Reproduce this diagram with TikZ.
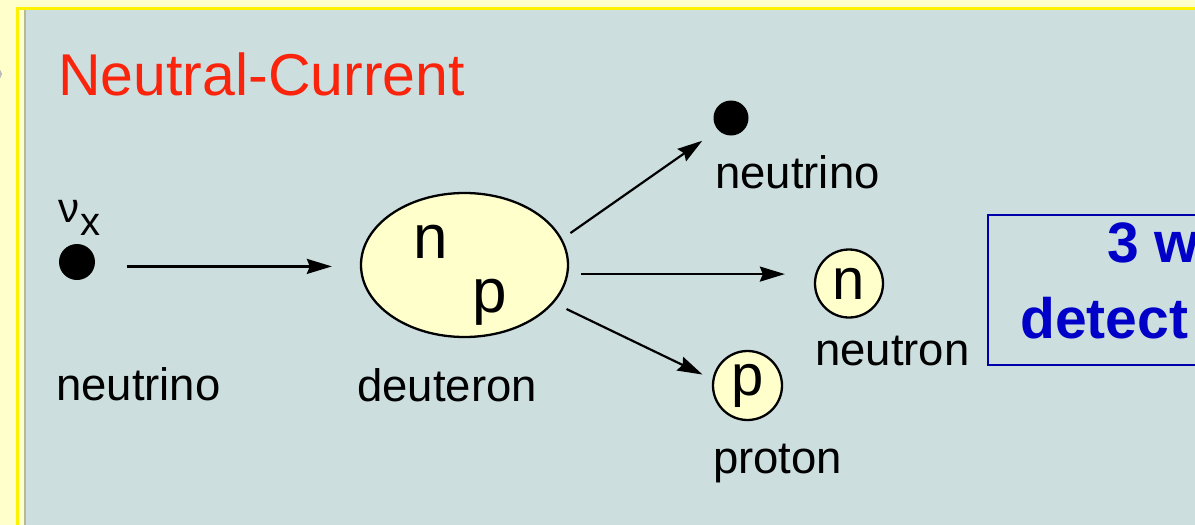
\documentclass[tikz,border=0pt]{standalone}
\usepackage{fontspec}
\setmainfont{Liberation Sans}
\usetikzlibrary{arrows.meta, positioning, shapes.geometric}
\definecolor{cream}{RGB}{255,255,204}
\definecolor{panelgray}{RGB}{204,222,222}
\definecolor{rimgray}{RGB}{184,184,150}
\definecolor{titlered}{RGB}{250,36,12}
\definecolor{noteblue}{RGB}{0,0,200}
\definecolor{boxblue}{RGB}{0,0,170}

\begin{document}
\begin{tikzpicture}[
        x=1pt, y=-1pt,
        dot/.style={circle, fill=black, minimum size=36pt, inner sep=0pt},
        bubble/.style={draw, fill=cream, line width=2.3pt, inner sep=0pt},
        lbl/.style={anchor=base west, inner sep=0pt, font=\fontsize{45.5}{50}\selectfont},
        bold/.style={anchor=base west, inner sep=0pt, text=noteblue, font=\fontsize{57}{62}\selectfont\bfseries},
        line/.style={draw, line width=2.2pt, -{Stealth[length=25pt, width=15pt, inset=3pt]}}
        ]
        \useasboundingbox (0,0) rectangle (1195,525);
        \clip (0,0) rectangle (1195,525);
        % frame and panel
        \fill[cream] (0,0) rectangle (1195,525);
        \fill[gray!55] (-3,74) circle (5);
        \draw[yellow, line width=3pt] (17.5,560) -- (17.5,8.5) -- (1250,8.5);
        \fill[rimgray] (24,10) rectangle (26,560);
        \fill[panelgray] (26,10) rectangle (1250,560);

        \node[anchor=base west, inner sep=0pt, text=titlered, font=\fontsize{59}{64}\selectfont] (title) at (58,95) {Neutral-Current};

        % incoming neutrino
        \node[dot] (nuin) at (77,262) {};
        \node[anchor=base west, inner sep=0pt, font=\fontsize{42}{46}\selectfont] (nusym) at (58,222) {ν};
        \node[anchor=base west, inner sep=0pt, font=\fontsize{40}{44}\selectfont] (nuidx) at (80,235) {x};
        \node[lbl] (nuinlbl) at (56,400) {neutrino};

        % deuteron
        \node[bubble, ellipse, minimum width=207pt, minimum height=144pt] (deut) at (464.5,265) {};
        \node[anchor=base, inner sep=0pt, font=\fontsize{62}{66}\selectfont] (dn) at (431,258) {n};
        \node[anchor=base, inner sep=0pt, font=\fontsize{62}{66}\selectfont] (dp) at (490,312) {p};
        \node[lbl] (deutlbl) at (357,401) {deuteron};

        % products
        \node[dot, minimum size=35pt] (nuout) at (731,118) {};
        \node[lbl] (nuoutlbl) at (715,188) {neutrino};
        \node[bubble, circle, minimum size=68pt, font=\fontsize{58}{62}\selectfont] (ncirc) at (849,283.5) {n};
        \node[lbl] (ncirclbl) at (815,365) {neutron};
        \node[bubble, circle, minimum size=69pt, font=\fontsize{58}{62}\selectfont] (pcirc) at (747.5,385.5) {p};
        \node[lbl] (pcirclbl) at (713,473) {proton};

        \path[line, shorten <=32pt, shorten >=28pt] (nuin.-14) -- (nuin.-14 -| deut.west);
        \path[line, shorten <=10pt, shorten >=19pt] (deut.15) -- (nuout.222);
        \path[line, shorten <=13pt, shorten >=29pt] (deut.-5) -- (deut.-5 -| ncirc.west);
        \path[line, shorten <=14pt, shorten >=11pt] (deut.-23) -- (pcirc.170);

        % note box
        \draw[boxblue, line width=2.5pt] (988,215) rectangle (1260,365);
        \node[bold] (note1) at (1107,262) {3 w};
        \node[bold] (note2) at (1020,338) {detect};
      \end{tikzpicture}
\end{document}
